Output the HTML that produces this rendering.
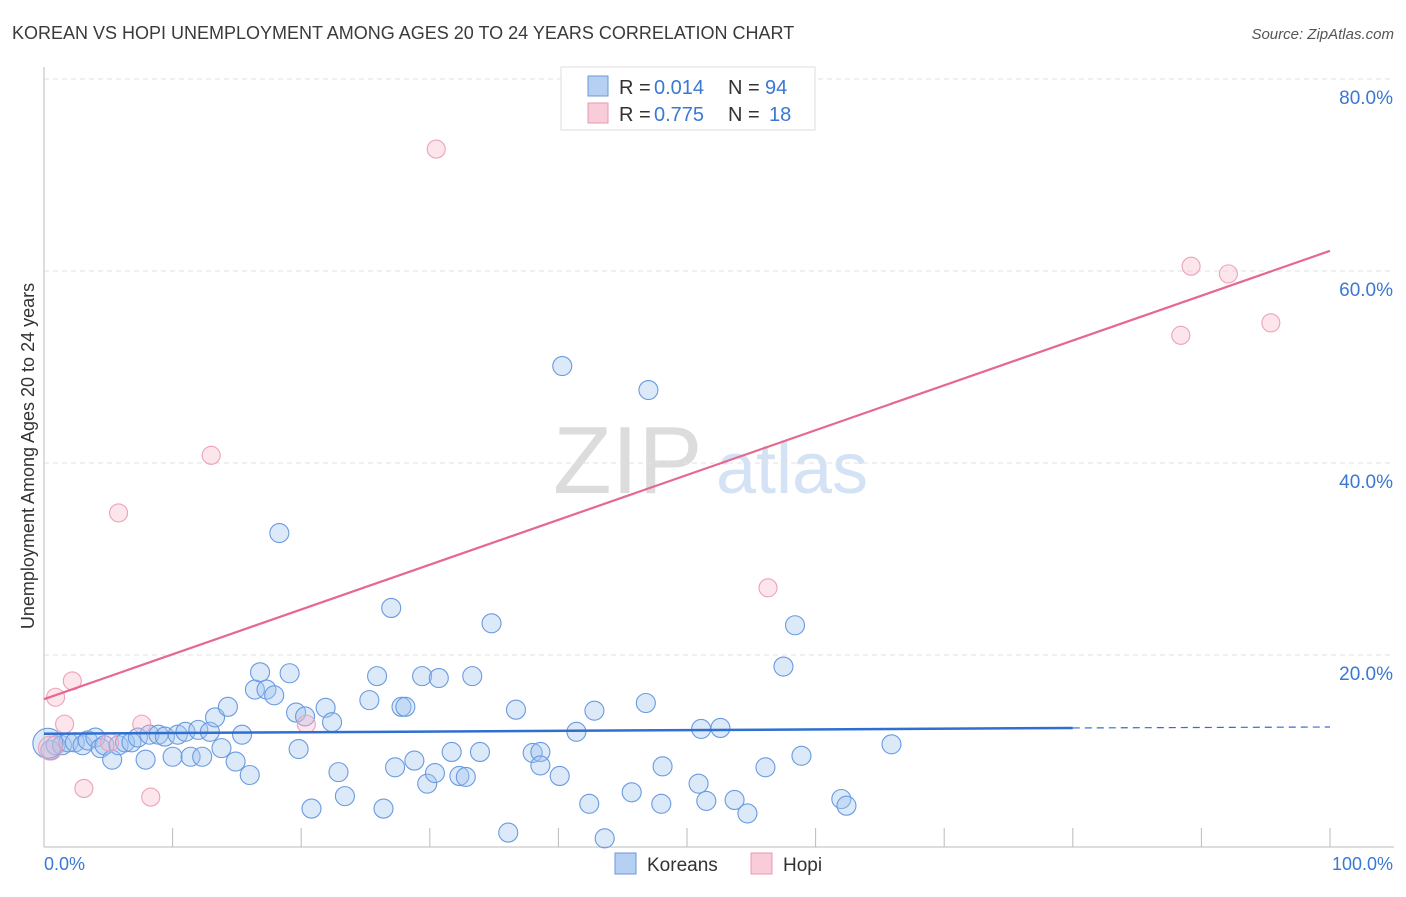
<!DOCTYPE html>
<html><head><meta charset="utf-8"><style>
body{margin:0;background:#fff;font-family:"Liberation Sans",sans-serif;}
svg text{font-family:"Liberation Sans",sans-serif;}
</style></head><body>
<svg id="chart" width="1406" height="892" xmlns="http://www.w3.org/2000/svg">
<text x="12" y="39" font-size="18" fill="#3a3a3a">KOREAN VS HOPI UNEMPLOYMENT AMONG AGES 20 TO 24 YEARS CORRELATION CHART</text>
<text x="1394" y="39" font-size="15" fill="#555" font-style="italic" text-anchor="end">Source: ZipAtlas.com</text>
<g>
<text x="553" y="493" font-size="96" fill="#dcdcdc" font-family="Liberation Serif, serif">ZIP</text>
<text x="716" y="493" font-size="72" fill="#d3e2f4">atlas</text>
</g>
<g id="grid"></g>
<g id="axes"></g>
<g id="pts"></g>
<g id="lines"></g>
<text transform="translate(34,456) rotate(-90)" font-size="18" fill="#333" text-anchor="middle">Unemployment Among Ages 20 to 24 years</text>
<text x="44" y="870" font-size="18" fill="#3a78d4">0.0%</text>
<text x="1393" y="870" font-size="18" fill="#3a78d4" text-anchor="end">100.0%</text>
<g>
<rect x="561" y="67" width="254" height="63" fill="#fff" stroke="#ddd"/>
<rect x="588" y="76" width="20" height="20" fill="#b5d0f2" stroke="#6a9ad8"/>
<rect x="588" y="103" width="20" height="20" fill="#f9ccd9" stroke="#e89ab0"/>
<text x="619" y="94" font-size="20" fill="#333">R =</text>
<text x="654" y="94" font-size="20" fill="#3a78d4">0.014</text>
<text x="728" y="94" font-size="20" fill="#333">N =</text>
<text x="765" y="94" font-size="20" fill="#3a78d4">94</text>
<text x="619" y="121" font-size="20" fill="#333">R =</text>
<text x="654" y="121" font-size="20" fill="#3a78d4">0.775</text>
<text x="728" y="121" font-size="20" fill="#333">N =</text>
<text x="769" y="121" font-size="20" fill="#3a78d4">18</text>
</g>
<g>
<rect x="615" y="853" width="21" height="21" fill="#b5d0f2" stroke="#6a9ad8"/>
<text x="647" y="871" font-size="19" fill="#333">Koreans</text>
<rect x="751" y="853" width="21" height="21" fill="#f9ccd9" stroke="#e89ab0"/>
<text x="783" y="871" font-size="19" fill="#333">Hopi</text>
</g>
</svg>
<script>
const yTicks=[20,40,60,80];
const yTickLabels=["20.0%","40.0%","60.0%","80.0%"];
const xTicks=[0,10,20,30,40,50,60,70,80,90,100];
const koreanX=[0.5,0.9,1.4,1.9,2.4,3.0,3.4,4.0,4.4,4.7,5.3,5.8,6.3,6.8,7.3,7.9,8.2,8.9,9.4,10.0,10.4,11.0,11.4,12.0,12.3,12.9,13.3,13.8,14.3,14.9,15.4,16.0,16.4,16.8,17.3,17.9,18.3,19.1,19.6,19.8,20.3,20.8,21.9,22.4,22.9,23.4,25.3,25.9,26.4,27.0,27.3,27.8,28.1,28.8,29.4,29.8,30.4,30.7,31.7,32.3,32.8,33.3,33.9,36.1,36.7,34.8,38.0,38.6,38.6,40.1,40.3,41.4,42.4,42.8,43.6,45.7,46.8,47.0,48.0,48.1,50.9,51.1,51.5,52.6,53.7,54.7,56.1,57.5,58.4,58.9,62.0,62.4,65.9,0.3];
const koreanY=[10.1,10.6,10.6,10.9,10.9,10.6,11.1,11.4,10.3,10.6,9.1,10.6,10.9,10.9,11.4,9.1,11.7,11.7,11.5,9.4,11.7,12.0,9.4,12.2,9.4,12.0,13.5,10.3,14.6,8.9,11.7,7.5,16.4,18.2,16.4,15.8,32.7,18.1,14.0,10.2,13.6,4.0,14.5,13.0,7.8,5.3,15.3,17.8,4.0,24.9,8.3,14.6,14.6,9.0,17.8,6.6,7.7,17.6,9.9,7.4,7.3,17.8,9.9,1.5,14.3,23.3,9.8,9.9,8.5,7.4,50.1,12.0,4.5,14.2,0.9,5.7,15.0,47.6,4.5,8.4,6.6,12.3,4.8,12.4,4.9,3.5,8.3,18.8,23.1,9.5,5.0,4.3,10.7,10.8];
const hopiX=[0.5,0.9,1.6,2.2,3.1,5.1,5.8,7.6,8.3,13.0,20.4,30.5,56.3,88.4,89.2,92.1,95.4];
const hopiY=[10.3,15.6,12.8,17.3,6.1,10.9,34.8,12.8,5.2,40.8,12.8,72.7,27.0,53.3,60.5,59.7,54.6];
const koreanTrend=[11.8,12.4,12.5]; // at x=0, 80, 100
const hopiTrend=[15.4,62.1]; // at x=0, 100

const NS="http://www.w3.org/2000/svg";
const X0=44,X1=1330,Y0=847,PPY=9.6;
function sx(v){return X0+(X1-X0)*v/100;}
function sy(v){return Y0-v*PPY;}
function mk(tag,attrs,parent){const e=document.createElementNS(NS,tag);for(const k in attrs)e.setAttribute(k,attrs[k]);document.getElementById(parent).appendChild(e);return e;}

yTicks.forEach((t,i)=>{
 const l=mk('line',{x1:44,x2:1394,y1:sy(t),y2:sy(t),stroke:'#e2e2e2','stroke-dasharray':'5,4'},'grid');
 
 
 const tx=mk('text',{x:1393,y:sy(t)+25,'font-size':19,fill:'#3a78d4','text-anchor':'end'},'grid');
 tx.textContent=yTickLabels[i];
 
 
});
mk('line',{x1:44,x2:44,y1:67,y2:847,stroke:'#bbb'},'axes');
mk('line',{x1:44,x2:1394,y1:847,y2:847,stroke:'#bbb'},'axes');
xTicks.forEach(t=>{
 const l=mk('line',{x1:sx(t),x2:sx(t),y1:828,y2:847,stroke:'#bbb'},'axes');
 
 
});
koreanX.forEach((x,i)=>{
 const big=i===koreanX.length-1;
 const c=mk('circle',{cx:sx(x),cy:sy(koreanY[i]),r:big?15:9.5,fill:'rgba(160,196,240,0.38)',stroke:'#6a9ae0','stroke-width':1.1},'pts');
 
 
});
hopiX.forEach((x,i)=>{
 const c=mk('circle',{cx:sx(x),cy:sy(hopiY[i]),r:i===0?12:9,fill:'rgba(248,180,200,0.35)',stroke:'#eca2b8','stroke-width':1.1},'pts');
 
 
});
const kl=mk('line',{x1:sx(0),y1:sy(koreanTrend[0]),x2:sx(80),y2:sy(koreanTrend[1]),stroke:'#2f6fd0','stroke-width':2.5},'lines');


const kd=mk('line',{x1:sx(80),y1:sy(koreanTrend[1]),x2:sx(100),y2:sy(koreanTrend[2]),stroke:'#2f6fd0','stroke-width':1.2,'stroke-dasharray':'7,5'},'lines');


const hl=mk('line',{x1:sx(0),y1:sy(hopiTrend[0]),x2:sx(100),y2:sy(hopiTrend[1]),stroke:'#e5688f','stroke-width':2.2},'lines');


</script>
</body></html>
